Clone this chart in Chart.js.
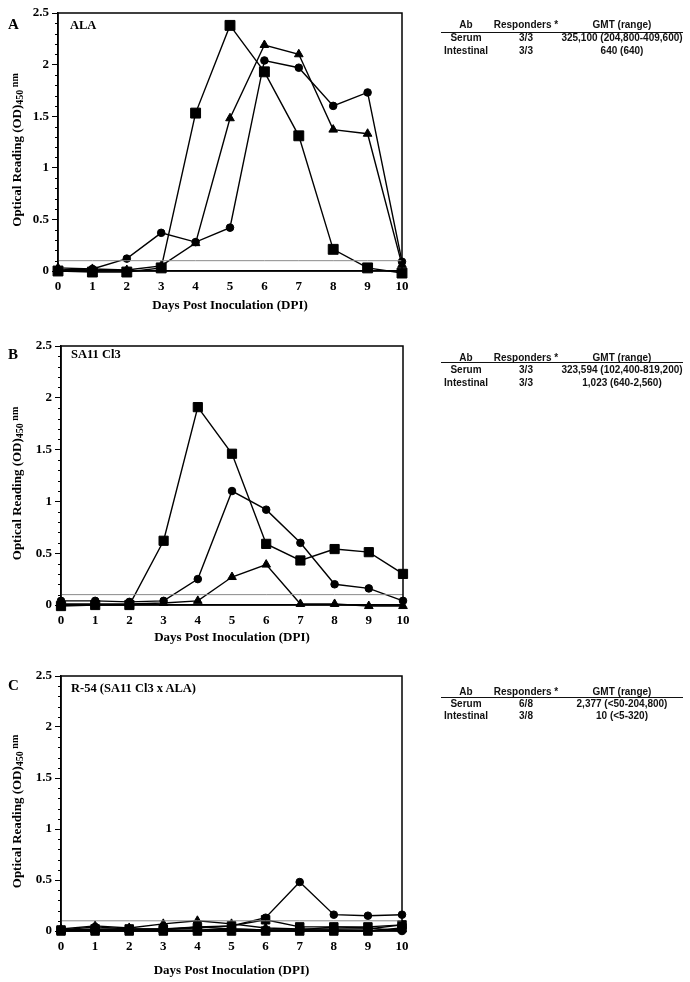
<!DOCTYPE html>
<html>
<head>
<meta charset="utf-8">
<script src="https://cdn.jsdelivr.net/npm/chart.js@4.4.1/dist/chart.umd.min.js"></script>
<style>
  body { margin: 0; background: #fff; width: 690px; height: 982px; position: relative; overflow: hidden; }
  canvas { position: absolute; left: 0; }
  .lbl { position: absolute; font-family: "Liberation Serif", serif; font-weight: bold; color: #000; white-space: nowrap; line-height: 1; }
  .tbl { position: absolute; font: bold 10px "Liberation Sans", Arial, sans-serif; color: #111; white-space: nowrap; line-height: 1; transform: translate(-50%, -50%); }
  .rule { position: absolute; left: 441px; width: 242px; height: 0; border-top: 1.2px solid #111; }
</style>
</head>
<body>
<canvas id="cA" width="420" height="320" style="top:0px"></canvas>
<canvas id="cB" width="420" height="320" style="top:333px"></canvas>
<canvas id="cC" width="420" height="319" style="top:663px"></canvas>

<div class="lbl" style="left:8px;top:17px;font-size:15px">A</div>
<div class="lbl" style="left:70px;top:19px;font-size:12.5px">ALA</div>
<div class="lbl" style="left:8px;top:347px;font-size:15px">B</div>
<div class="lbl" style="left:71px;top:348px;font-size:12.5px">SA11 Cl3</div>
<div class="lbl" style="left:8px;top:678px;font-size:15px">C</div>
<div class="lbl" style="left:71px;top:682px;font-size:12.5px">R-54 (SA11 Cl3 x ALA)</div>

<script>
// days post inoculation
const days = [0, 1, 2, 3, 4, 5, 6, 7, 8, 9, 10];
const cutoffOD = 0.1;

// panel A - ALA
const alaSquare   = [0.00, -0.01, -0.01, 0.03, 1.53, 2.38, 1.93, 1.31, 0.21, 0.03, -0.02];
const alaCircle   = [0.01, 0.02, 0.12, 0.37, 0.28, 0.42, 2.04, 1.97, 1.60, 1.73, 0.09];
const alaTriangle = [0.03, 0.02, 0.01, 0.05, 0.27, 1.48, 2.19, 2.10, 1.37, 1.33, 0.06];

// panel B - SA11 Cl3
const saSquare   = [-0.01, 0.00, 0.00, 0.62, 1.91, 1.46, 0.59, 0.43, 0.54, 0.51, 0.30];
const saCircle   = [0.04, 0.04, 0.03, 0.04, 0.25, 1.10, 0.92, 0.60, 0.20, 0.16, 0.04];
const saTriangle = [0.01, 0.01, 0.01, 0.02, 0.04, 0.27, 0.39, 0.01, 0.01, -0.01, -0.01];

// panel C - R-54 reassortant
const r54Circle1   = [0.01, 0.04, 0.02, 0.02, 0.04, 0.05, 0.13, 0.48, 0.16, 0.15, 0.16];
const r54Triangle1 = [0.02, 0.05, 0.03, 0.07, 0.10, 0.07, 0.03, 0.02, 0.02, 0.02, 0.06];
const r54Square1   = [0.01, 0.02, 0.02, 0.02, 0.03, 0.05, 0.11, 0.04, 0.04, 0.04, 0.06];
const r54Circle2   = [0.01, 0.01, 0.01, 0.01, 0.01, 0.02, 0.01, 0.01, 0.04, 0.03, 0.00];
const r54Square2   = [0.00, 0.00, 0.00, 0.00, 0.00, 0.00, 0.00, 0.00, 0.00, 0.00, 0.03];
const r54Triangle2 = [0.01, 0.01, 0.01, 0.01, 0.04, 0.02, 0.01, 0.01, 0.01, 0.00, 0.02];

// antibody tables
const tableHead = ['Ab', 'Responders *', 'GMT (range)'];
const tableA = [['Serum', '3/3', '325,100 (204,800-409,600)'], ['Intestinal', '3/3', '640 (640)']];
const tableB = [['Serum', '3/3', '323,594 (102,400-819,200)'], ['Intestinal', '3/3', '1,023 (640-2,560)']];
const tableC = [['Serum', '6/8', '2,377 (<50-204,800)'], ['Intestinal', '3/8', '10 (<5-320)']];

const serif = '"Liberation Serif", "Times New Roman", serif';
const tickFont = { family: serif, size: 13, weight: 'bold' };

function series(values, shape, r) {
  return {
    data: values,
    borderColor: '#000',
    backgroundColor: '#000',
    borderWidth: 1.4,
    pointStyle: shape,
    pointRadius: r,
    pointBorderWidth: 1,
    tension: 0,
    clip: false
  };
}

function cutoffLine() {
  return {
    data: days.map(() => cutoffOD),
    borderColor: '#8a8a8a',
    borderWidth: 1,
    pointRadius: 0,
    clip: false
  };
}

const framePlugin = {
  id: 'frame',
  afterDraw(chart) {
    const { ctx, chartArea: a } = chart;
    const y = chart.scales.y;
    ctx.save();
    ctx.strokeStyle = '#000';
    // minor ticks every 0.1
    ctx.lineWidth = 1;
    for (let v = 0; v <= 25; v++) {
      if (v % 5 === 0) continue;
      const py = Math.round(y.getPixelForValue(v / 10)) + 0.5;
      ctx.beginPath();
      ctx.moveTo(a.left - 3, py);
      ctx.lineTo(a.left, py);
      ctx.stroke();
    }
    ctx.lineWidth = 1.5;
    ctx.strokeRect(a.left, a.top, a.right - a.left, a.bottom - a.top);

    // y title with subscript / superscript
    ctx.fillStyle = '#000';
    ctx.translate(16, (a.top + a.bottom) / 2 + 8);
    ctx.rotate(-Math.PI / 2);
    ctx.textBaseline = 'alphabetic';
    const main = 'Optical Reading (OD)';
    ctx.font = 'bold 13px ' + serif;
    const w1 = ctx.measureText(main).width;
    ctx.font = 'bold 10px ' + serif;
    const w2 = ctx.measureText('450').width;
    const w3 = ctx.measureText(' nm').width;
    let x = -(w1 + w2 + w3) / 2;
    ctx.font = 'bold 13px ' + serif;
    ctx.fillText(main, x, 4.5);
    x += w1;
    ctx.font = 'bold 10px ' + serif;
    ctx.fillText('450', x, 6.5);
    x += w2;
    ctx.fillText(' nm', x, 1.5);
    ctx.restore();
  }
};

function panel(id, datasets, p) {
  new Chart(document.getElementById(id), {
    type: 'line',
    data: { labels: days, datasets: datasets },
    options: {
      responsive: false,
      animation: false,
      events: [],
      layout: { padding: { top: p.padTop, right: 420 - p.right, bottom: p.padBottom, left: 0 } },
      plugins: { legend: { display: false }, tooltip: { enabled: false } },
      scales: {
        x: {
          type: 'linear', min: 0, max: 10,
          ticks: { stepSize: 1, color: '#000', font: tickFont, padding: 4 },
          grid: { drawOnChartArea: false, tickLength: 4, color: 'rgba(0,0,0,0)' },
          border: { color: '#000', width: 1.5 },
          title: { display: true, text: 'Days Post Inoculation (DPI)', color: '#000', font: tickFont, padding: { top: 0, bottom: 0 } },
          afterFit(s) { s.height = p.xh; }
        },
        y: {
          min: 0, max: 2.5,
          ticks: { stepSize: 0.5, color: '#000', font: tickFont, padding: 3, callback: v => String(+v.toFixed(1)) },
          grid: { drawOnChartArea: false, tickLength: 6, color: '#000', lineWidth: 1 },
          border: { color: '#000', width: 1.5 },
          afterFit(s) { s.width = p.left; }
        }
      }
    },
    plugins: [framePlugin]
  });
}

panel('cA', [
  cutoffLine(),
  series(alaSquare, 'rect', 7),
  series(alaCircle, 'circle', 3.8),
  series(alaTriangle, 'triangle', 5)
], { padTop: 13, padBottom: 7, xh: 42, left: 58, right: 402 });

panel('cB', [
  cutoffLine(),
  series(saSquare, 'rect', 6.5),
  series(saCircle, 'circle', 3.8),
  series(saTriangle, 'triangle', 5)
], { padTop: 13, padBottom: 8, xh: 40, left: 61, right: 403 });

panel('cC', [
  cutoffLine(),
  series(r54Circle1, 'circle', 3.8),
  series(r54Triangle1, 'triangle', 5),
  series(r54Square1, 'rect', 6),
  series(r54Circle2, 'circle', 3.8),
  series(r54Square2, 'rect', 6),
  series(r54Triangle2, 'triangle', 5)
], { padTop: 13, padBottom: 4, xh: 47, left: 61, right: 402 });

// tables on the right
const colX = [466, 526, 622];
function table(rows, headY, ruleY, rowY) {
  const put = (txt, x, y) => {
    const d = document.createElement('div');
    d.className = 'tbl';
    d.style.left = x + 'px';
    d.style.top = y + 'px';
    d.textContent = txt;
    document.body.appendChild(d);
  };
  tableHead.forEach((t, i) => put(t, colX[i], headY));
  const r = document.createElement('div');
  r.className = 'rule';
  r.style.top = ruleY + 'px';
  document.body.appendChild(r);
  rows.forEach((row, j) => row.forEach((t, i) => put(t, colX[i], rowY[j])));
}
table(tableA, 25, 32, [38, 50.5]);
table(tableB, 358, 362, [370, 382.5]);
table(tableC, 692, 697, [704, 716]);
</script>
</body>
</html>
